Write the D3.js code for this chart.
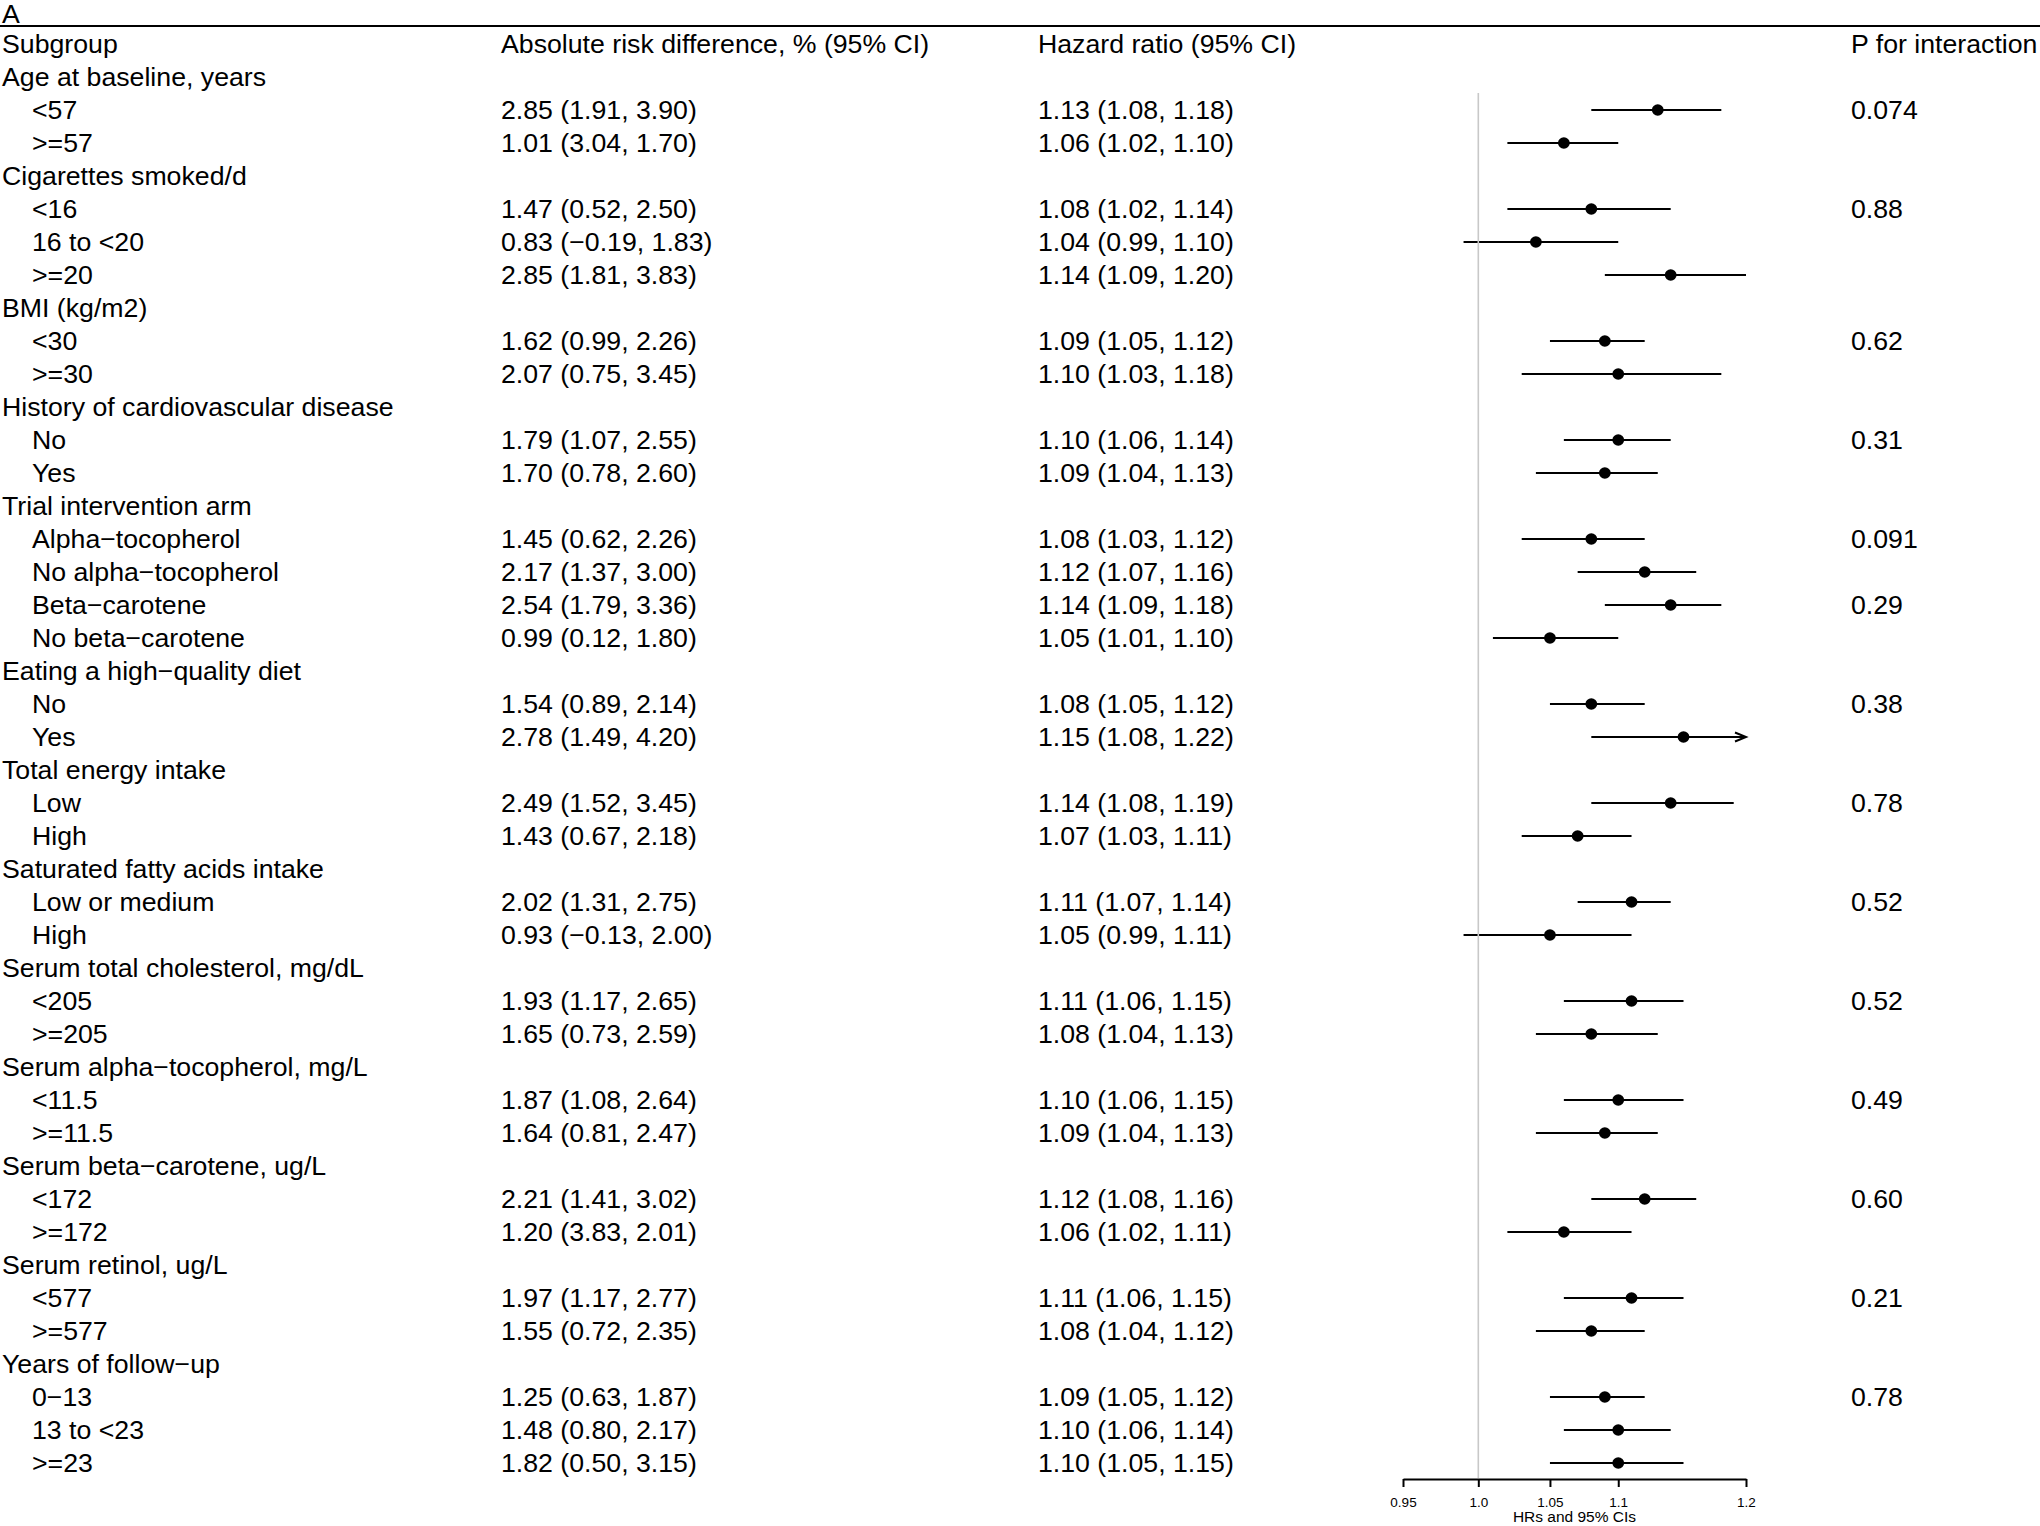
<!DOCTYPE html>
<html><head><meta charset="utf-8">
<script src="https://cdn.jsdelivr.net/npm/d3@7"></script>
<style>html,body{margin:0;padding:0;background:#fff}svg{display:block}text{font-family:"Liberation Sans",Arial,sans-serif;fill:#000}</style>
</head><body>
<script>
const M = "\u2212";
// rows after the "Subgroup" header; level 0 = group title, 1 = subgroup
const rowLabels = ["Age at baseline, years","<57",">=57","Cigarettes smoked/d","<16","16 to <20",">=20","BMI (kg/m2)","<30",">=30","History of cardiovascular disease","No","Yes","Trial intervention arm","Alpha"+M+"tocopherol","No alpha"+M+"tocopherol","Beta"+M+"carotene","No beta"+M+"carotene","Eating a high"+M+"quality diet","No","Yes","Total energy intake","Low","High","Saturated fatty acids intake","Low or medium","High","Serum total cholesterol, mg/dL","<205",">=205","Serum alpha"+M+"tocopherol, mg/L","<11.5",">=11.5","Serum beta"+M+"carotene, ug/L","<172",">=172","Serum retinol, ug/L","<577",">=577","Years of follow"+M+"up","0"+M+"13","13 to <23",">=23"];
const rowLevel = [0,1,1,0,1,1,1,0,1,1,0,1,1,0,1,1,1,1,0,1,1,0,1,1,0,1,1,0,1,1,0,1,1,0,1,1,0,1,1,0,1,1,1];
const ard   = [null,2.85,1.01,null,1.47,0.83,2.85,null,1.62,2.07,null,1.79,1.70,null,1.45,2.17,2.54,0.99,null,1.54,2.78,null,2.49,1.43,null,2.02,0.93,null,1.93,1.65,null,1.87,1.64,null,2.21,1.20,null,1.97,1.55,null,1.25,1.48,1.82];
const ardLo = [null,1.91,3.04,null,0.52,-0.19,1.81,null,0.99,0.75,null,1.07,0.78,null,0.62,1.37,1.79,0.12,null,0.89,1.49,null,1.52,0.67,null,1.31,-0.13,null,1.17,0.73,null,1.08,0.81,null,1.41,3.83,null,1.17,0.72,null,0.63,0.80,0.50];
const ardHi = [null,3.90,1.70,null,2.50,1.83,3.83,null,2.26,3.45,null,2.55,2.60,null,2.26,3.00,3.36,1.80,null,2.14,4.20,null,3.45,2.18,null,2.75,2.00,null,2.65,2.59,null,2.64,2.47,null,3.02,2.01,null,2.77,2.35,null,1.87,2.17,3.15];
const hr    = [null,1.13,1.06,null,1.08,1.04,1.14,null,1.09,1.10,null,1.10,1.09,null,1.08,1.12,1.14,1.05,null,1.08,1.15,null,1.14,1.07,null,1.11,1.05,null,1.11,1.08,null,1.10,1.09,null,1.12,1.06,null,1.11,1.08,null,1.09,1.10,1.10];
const hrLo  = [null,1.08,1.02,null,1.02,0.99,1.09,null,1.05,1.03,null,1.06,1.04,null,1.03,1.07,1.09,1.01,null,1.05,1.08,null,1.08,1.03,null,1.07,0.99,null,1.06,1.04,null,1.06,1.04,null,1.08,1.02,null,1.06,1.04,null,1.05,1.06,1.05];
const hrHi  = [null,1.18,1.10,null,1.14,1.10,1.20,null,1.12,1.18,null,1.14,1.13,null,1.12,1.16,1.18,1.10,null,1.12,1.22,null,1.19,1.11,null,1.14,1.11,null,1.15,1.13,null,1.15,1.13,null,1.16,1.11,null,1.15,1.12,null,1.12,1.14,1.15];
const pText = ["","0.074","","","0.88","","","","0.62","","","0.31","","","0.091","","0.29","","","0.38","","","0.78","","","0.52","","","0.52","","","0.49","","","0.60","","","0.21","","","0.78","",""];
const headers = ["Subgroup","Absolute risk difference, % (95% CI)","Hazard ratio (95% CI)","P for interaction"];
const tickVals = [0.95,1.0,1.05,1.1,1.2];
const tickLabels = ["0.95","1.0","1.05","1.1","1.2"];
const axisTitle = "HRs and 95% CIs";
const panelLabel = "A";

const W = 2040, H = 1526, FS = 26.7;
const svg = d3.select("body").append("svg").attr("width", W).attr("height", H);
const fmt = v => v.toFixed(2).replace("-", M);

const y = d3.scaleLinear().domain([0, rowLabels.length]).range([44, 44 + 33 * rowLabels.length]);
const x = d3.scaleLog().domain([0.95, 1.2]).range([1403, 1746]);
const colX = [2, 501, 1038, 1851];

svg.append("text").attr("x", 2).attr("y", 14).attr("dominant-baseline", "central").attr("font-size", FS).text(panelLabel);
svg.append("line").attr("x1", 0).attr("x2", W).attr("y1", 26).attr("y2", 26).attr("stroke", "#000").attr("stroke-width", 2);

headers.forEach((h, i) => svg.append("text").attr("x", colX[i]).attr("y", y(0)).attr("dominant-baseline", "central").attr("font-size", FS).text(h));

const rows = svg.append("g").selectAll("g").data(rowLabels.map((l, i) => i)).join("g");
rows.append("text").attr("x", i => rowLevel[i] ? 32 : 2).attr("y", i => y(i + 1)).attr("dominant-baseline", "central").attr("font-size", FS).text(i => rowLabels[i]);
rows.filter(i => ard[i] != null).append("text").attr("x", colX[1]).attr("y", i => y(i + 1)).attr("dominant-baseline", "central").attr("font-size", FS)
  .text(i => `${fmt(ard[i])} (${fmt(ardLo[i])}, ${fmt(ardHi[i])})`);
rows.filter(i => hr[i] != null).append("text").attr("x", colX[2]).attr("y", i => y(i + 1)).attr("dominant-baseline", "central").attr("font-size", FS)
  .text(i => `${fmt(hr[i])} (${fmt(hrLo[i])}, ${fmt(hrHi[i])})`);
rows.filter(i => pText[i]).append("text").attr("x", colX[3]).attr("y", i => y(i + 1)).attr("dominant-baseline", "central").attr("font-size", FS).text(i => pText[i]);

// reference line at HR = 1
svg.append("line").attr("x1", x(1)).attr("x2", x(1)).attr("y1", y(2) - 17).attr("y2", 1478).attr("stroke", "#c8c8c8").attr("stroke-width", 1.6);

const dmax = x.domain()[1];
const pr = rows.filter(i => hr[i] != null);
pr.append("line").attr("x1", i => x(hrLo[i])).attr("x2", i => x(Math.min(hrHi[i], dmax))).attr("y1", i => y(i + 1)).attr("y2", i => y(i + 1)).attr("stroke", "#000").attr("stroke-width", 2);
pr.filter(i => hrHi[i] > dmax).append("path")
  .attr("d", i => { const ax = x(dmax), ay = y(i + 1); return `M${ax - 11},${ay - 4.5}L${ax},${ay}L${ax - 11},${ay + 4.5}`; })
  .attr("fill", "none").attr("stroke", "#000").attr("stroke-width", 2);
pr.append("ellipse").attr("cx", i => x(hr[i])).attr("cy", i => y(i + 1)).attr("rx", 5.9).attr("ry", 5.7).attr("fill", "#000");

// axis
const axis = d3.axisBottom(x).tickValues(tickVals).tickFormat((d, i) => tickLabels[i]).tickSize(8).tickSizeOuter(0);
const ag = svg.append("g").attr("transform", "translate(0,1479)").call(axis);
ag.select(".domain").attr("stroke", "#000").attr("stroke-width", 2);
ag.selectAll(".tick line").attr("stroke", "#000").attr("stroke-width", 2);
ag.selectAll(".tick text").attr("font-family", "Liberation Sans, Arial, sans-serif").attr("font-size", 13.5).attr("fill", "#000").attr("y", 23).attr("dy", null).attr("dominant-baseline", "central");
svg.append("text").attr("x", (x(0.95) + x(1.2)) / 2).attr("y", 1516).attr("text-anchor", "middle").attr("dominant-baseline", "central").attr("font-size", 15.5).text(axisTitle);
</script>
</body></html>
